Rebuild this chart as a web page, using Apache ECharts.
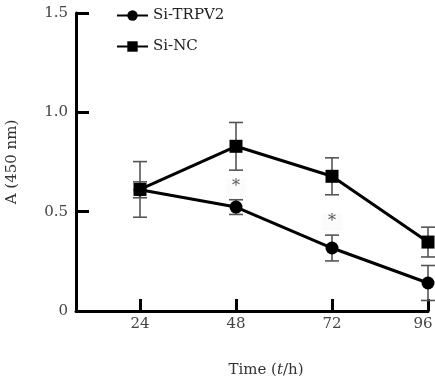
<!DOCTYPE html>
<html>
<head>
<meta charset="utf-8">
<script src="https://cdn.jsdelivr.net/npm/echarts@6/dist/echarts.min.js"></script>
<style>
  html, body { margin: 0; padding: 0; background: #fff; }
  #chart { width: 435px; height: 383px; }
</style>
</head>
<body>
<div id="chart"></div>
<script>
// time points (h)
const hours = [24, 48, 72, 96]
const xTicks = [24, 48, 72, 96]
const yTicks = [0, 0.5, 1.0, 1.5]

// absorbance, mean and SD
const trpv2Mean = [0.61, 0.523, 0.317, 0.141]
const trpv2Sd = [0.04, 0.037, 0.065, 0.088]
const ncMean = [0.612, 0.829, 0.678, 0.347]
const ncSd = [0.14, 0.12, 0.093, 0.075]

// significance marks
const sigHours = [48, 72]
const sigLevels = [0.623, 0.447]

const serif = 'DejaVu Serif'

const chart = echarts.init(document.getElementById('chart'), null, { renderer: 'canvas' })

const pairs = (xs, ys) => xs.map((x, i) => [x, ys[i]])
const errData = (mean, sd) => hours.map((h, i) => [h, mean[i] - sd[i], mean[i] + sd[i]])

const renderErr = (params, api) => {
  const x = api.value(0)
  const lo = api.coord([x, api.value(1)])
  const hi = api.coord([x, api.value(2)])
  const half = 7
  const style = { stroke: '#555', lineWidth: 1.6 }
  return {
    type: 'group',
    children: [
      { type: 'line', shape: { x1: lo[0], y1: lo[1], x2: hi[0], y2: hi[1] }, style },
      { type: 'line', shape: { x1: lo[0] - half, y1: lo[1], x2: lo[0] + half, y2: lo[1] }, style },
      { type: 'line', shape: { x1: hi[0] - half, y1: hi[1], x2: hi[0] + half, y2: hi[1] }, style },
    ],
  }
}

const renderStar = (params, api) => {
  const p = api.coord([api.value(0), api.value(1)])
  return {
    type: 'text',
    x: p[0],
    y: p[1],
    style: {
      text: '*',
      fill: '#555',
      font: '16px ' + serif,
      align: 'center',
      verticalAlign: 'middle',
      backgroundColor: '#fbfbfb',
      padding: [2, 6, 0, 6],
    },
  }
}

const option = {
  animation: false,
  grid: { left: 76, right: 7, top: 13, bottom: 72, outerBoundsMode: 'none' },
  legend: {
    orient: 'vertical',
    left: 116,
    top: 8,
    padding: 0,
    itemWidth: 31,
    itemHeight: 13,
    itemGap: 16,
    textStyle: { fontFamily: serif, fontSize: 15, color: '#222' },
    data: ['Si-TRPV2', 'Si-NC'],
  },
  xAxis: {
    type: 'value',
    min: 8,
    max: 96,
    splitLine: { show: false },
    axisLine: { lineStyle: { color: '#000', width: 3 } },
    axisTick: { inside: true, length: 12, lineStyle: { color: '#000', width: 3 }, customValues: xTicks },
    axisLabel: {
      customValues: xTicks, fontFamily: serif, fontSize: 15, color: '#444', margin: 6,
      formatter: v => (v === 96 ? '{e|96}' : String(v)),
      rich: { e: { fontFamily: serif, fontSize: 15, color: '#444', padding: [0, 10, 0, 0] } },
    },
    name: 'Time ({i|t}/h)',
    nameLocation: 'middle',
    nameGap: 52,
    nameTextStyle: {
      fontFamily: serif, fontSize: 15, color: '#333', padding: [0, 0, 0, 28],
      rich: { i: { fontFamily: serif, fontSize: 15, fontStyle: 'italic', color: '#333' } },
    },
  },
  yAxis: {
    type: 'value',
    min: 0,
    max: 1.5,
    interval: 0.5,
    splitLine: { show: false },
    axisLine: { show: true, lineStyle: { color: '#000', width: 3 } },
    axisTick: { show: true, inside: true, length: 13, lineStyle: { color: '#000', width: 3 }, customValues: yTicks },
    axisLabel: {
      fontFamily: serif, fontSize: 15, color: '#444', margin: 8,
      formatter: v => (v === 0 ? '0' : v.toFixed(1)),
    },
    name: 'A (450 nm)',
    nameLocation: 'middle',
    nameGap: 56,
    nameTextStyle: { fontFamily: serif, fontSize: 15, color: '#333' },
  },
  series: [
    {
      name: 'trpv2 err',
      type: 'custom',
      renderItem: renderErr,
      data: errData(trpv2Mean, trpv2Sd),
      z: 1,
    },
    {
      name: 'nc err',
      type: 'custom',
      renderItem: renderErr,
      data: errData(ncMean, ncSd),
      z: 1,
    },
    {
      name: 'Si-TRPV2',
      type: 'line',
      symbol: 'circle',
      symbolSize: 13,
      lineStyle: { color: '#000', width: 3 },
      itemStyle: { color: '#000' },
      data: pairs(hours, trpv2Mean),
      z: 3,
    },
    {
      name: 'Si-NC',
      type: 'line',
      symbol: 'rect',
      symbolSize: 13,
      lineStyle: { color: '#000', width: 3 },
      itemStyle: { color: '#000' },
      data: pairs(hours, ncMean),
      z: 3,
    },
    {
      name: 'sig',
      type: 'custom',
      renderItem: renderStar,
      data: pairs(sigHours, sigLevels),
      z: 4,
    },
  ],
}

chart.setOption(option)
</script>
</body>
</html>
